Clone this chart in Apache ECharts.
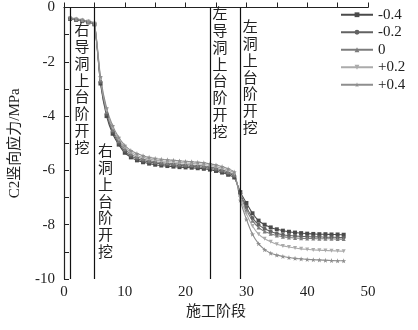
<!DOCTYPE html>
<html>
<head>
<meta charset="utf-8">
<script src="https://cdn.jsdelivr.net/npm/echarts@6/dist/echarts.min.js"></script>
<style>
  html, body { margin: 0; padding: 0; background: #fff; }
  #chart { width: 418px; height: 330px; }
</style>
</head>
<body>
<div id="chart"></div>
<script>
// Construction stages 1..46
var stages = [];
for (var i = 1; i <= 46; i++) stages.push(i);

var seriesNames = ['-0.4', '-0.2', '0', '+0.2', '+0.4'];

var sNeg04 = [-0.42, -0.46, -0.50, -0.55, -0.62,
  -2.80, -4.00, -4.65, -5.05, -5.35, -5.52, -5.63, -5.70, -5.75, -5.79, -5.82, -5.84, -5.86, -5.88, -5.89, -5.90, -5.92, -5.94, -5.97, -6.02, -6.08, -6.16, -6.26,
  -6.80, -7.20, -7.58, -7.85, -8.00, -8.10, -8.17, -8.22, -8.26, -8.29, -8.31, -8.33, -8.34, -8.35, -8.35, -8.36, -8.36, -8.37];
var sNeg02 = [-0.41, -0.45, -0.49, -0.54, -0.61,
  -2.74, -3.92, -4.58, -4.98, -5.28, -5.46, -5.57, -5.64, -5.69, -5.73, -5.76, -5.78, -5.80, -5.82, -5.84, -5.85, -5.87, -5.89, -5.92, -5.97, -6.03, -6.11, -6.21,
  -6.85, -7.35, -7.75, -8.00, -8.15, -8.25, -8.32, -8.37, -8.40, -8.42, -8.43, -8.44, -8.45, -8.45, -8.46, -8.46, -8.47, -8.47];
var sZero = [-0.40, -0.44, -0.48, -0.53, -0.60,
  -2.68, -3.85, -4.51, -4.92, -5.21, -5.40, -5.51, -5.58, -5.64, -5.68, -5.71, -5.73, -5.75, -5.77, -5.79, -5.80, -5.82, -5.84, -5.87, -5.92, -5.98, -6.06, -6.16,
  -6.90, -7.45, -7.85, -8.10, -8.25, -8.33, -8.40, -8.44, -8.47, -8.49, -8.50, -8.51, -8.51, -8.52, -8.52, -8.52, -8.53, -8.53];
var sPos02 = [-0.39, -0.43, -0.47, -0.52, -0.59,
  -2.62, -3.78, -4.43, -4.85, -5.15, -5.33, -5.45, -5.52, -5.58, -5.62, -5.65, -5.67, -5.69, -5.71, -5.73, -5.74, -5.76, -5.78, -5.81, -5.86, -5.92, -6.00, -6.11,
  -7.00, -7.60, -8.05, -8.35, -8.52, -8.63, -8.72, -8.78, -8.82, -8.86, -8.89, -8.91, -8.93, -8.94, -8.95, -8.96, -8.97, -8.98];
var sPos04 = [-0.38, -0.42, -0.46, -0.51, -0.58,
  -2.55, -3.70, -4.35, -4.78, -5.08, -5.27, -5.38, -5.46, -5.52, -5.56, -5.59, -5.61, -5.63, -5.65, -5.67, -5.68, -5.70, -5.72, -5.76, -5.80, -5.86, -5.94, -6.06,
  -7.10, -7.80, -8.35, -8.70, -8.92, -9.05, -9.12, -9.17, -9.21, -9.24, -9.26, -9.28, -9.29, -9.30, -9.31, -9.32, -9.33, -9.33];

// Stage boundaries drawn as vertical lines
var boundaries = [1, 5, 24, 29];
var phaseLabels = ['右导洞上台阶开挖', '右洞上台阶开挖', '左导洞上台阶开挖', '左洞上台阶开挖'];

var serifFont = '"Liberation Serif", "Times New Roman", "Noto Sans CJK SC", serif';
var starPath = 'path://M0,-10 L2.4,-3.2 L9.5,-3.1 L3.8,1.2 L5.9,8.1 L0,4 L-5.9,8.1 L-3.8,1.2 L-9.5,-3.1 L-2.4,-3.2 Z';

function pairs(values) {
  return values.map(function (v, k) { return [stages[k], v]; });
}

function makeSeries(name, values, color, symbol, rotate, size) {
  return {
    name: name,
    type: 'line',
    data: pairs(values),
    symbol: symbol,
    symbolRotate: rotate,
    symbolSize: size,
    showSymbol: true,
    smooth: 0.2,
    lineStyle: { color: color, width: 1.1 },
    itemStyle: { color: color },
    z: 3
  };
}

var series = [
  makeSeries(seriesNames[0], sNeg04, '#4a4a4a', 'rect', 0, 4),
  makeSeries(seriesNames[1], sNeg02, '#626262', 'circle', 0, 4),
  makeSeries(seriesNames[2], sZero, '#7c7c7c', 'triangle', 0, 4),
  makeSeries(seriesNames[3], sPos02, '#ababab', 'triangle', 180, 4),
  makeSeries(seriesNames[4], sPos04, '#8e8e8e', starPath, 0, 5)
];

series[0].markLine = {
  silent: true,
  symbol: 'none',
  label: { show: false },
  lineStyle: { color: '#111', width: 1.2, type: 'solid' },
  data: boundaries.map(function (b) { return { xAxis: b }; })
};

var chart = echarts.init(document.getElementById('chart'), null, { renderer: 'canvas' });

chart.setOption({
  animation: false,
  backgroundColor: '#fff',
  grid: { left: 62, right: 50, top: 4, bottom: 51 },
  legend: {
    orient: 'vertical',
    left: 340,
    top: 7,
    itemWidth: 32,
    itemHeight: 6,
    itemGap: 2,
    padding: 0,
    textStyle: { fontFamily: serifFont, fontSize: 15, color: '#222', lineHeight: 15.5 },
    data: seriesNames
  },
  xAxis: {
    type: 'value',
    min: 0, max: 50, interval: 10,
    name: '施工阶段',
    nameLocation: 'middle',
    nameGap: 24,
    nameTextStyle: { fontFamily: serifFont, fontSize: 15, color: '#222' },
    axisLine: { lineStyle: { color: '#222', width: 1.2 } },
    axisTick: { inside: true, length: 5, lineStyle: { color: '#222' } },
    minorTick: { show: true, splitNumber: 2, length: 5, lineStyle: { color: '#222' } },
    axisLabel: { fontFamily: serifFont, fontSize: 15, color: '#222', margin: 6 },
    splitLine: { show: false }
  },
  yAxis: {
    type: 'value',
    min: -10, max: 0, interval: 2,
    name: 'C2竖向应力/MPa',
    nameLocation: 'middle',
    nameGap: 41,
    nameRotate: 90,
    nameTextStyle: { fontFamily: serifFont, fontSize: 15, color: '#222' },
    axisLine: { show: true, lineStyle: { color: '#222', width: 1.2 } },
    axisTick: { inside: true, length: 5, lineStyle: { color: '#222' } },
    minorTick: { show: true, splitNumber: 2, length: 5, lineStyle: { color: '#222' } },
    axisLabel: { fontFamily: serifFont, fontSize: 15, color: '#222', margin: 9 },
    splitLine: { show: false }
  },
  series: series
});

// Vertical phase captions beside each boundary line
function placeCaptions() {
  var offsets = [
    { stage: boundaries[0], dx: 12, top: 21 },
    { stage: boundaries[1], dx: 11, top: 142 },
    { stage: boundaries[2], dx: 10, top: 5 },
    { stage: boundaries[3], dx: 10, top: 18 }
  ];
  var elements = offsets.map(function (o, k) {
    var px = chart.convertToPixel({ xAxisIndex: 0, yAxisIndex: 0 }, [o.stage, 0]);
    return {
      type: 'text',
      x: px[0] + o.dx,
      y: o.top,
      style: {
        text: phaseLabels[k].split('').join('\n'),
        fontFamily: '"Noto Sans CJK SC", sans-serif',
        fontSize: 15,
        lineHeight: 16.8,
        fill: '#222',
        align: 'center',
        verticalAlign: 'top'
      },
      z: 10
    };
  });
  chart.setOption({ graphic: elements });
}
placeCaptions();
</script>
</body>
</html>
